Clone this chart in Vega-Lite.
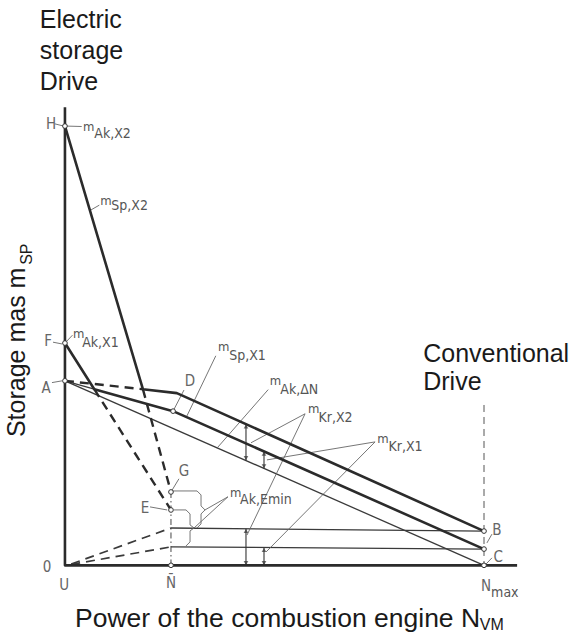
{
  "$schema": "https://vega.github.io/schema/vega-lite/v6.json",
  "width": 572,
  "height": 640,
  "padding": 0,
  "autosize": {"type": "fit", "contains": "padding"},
  "background": "white",
  "config": {"view": {"stroke": null}},
  "datasets": {
    "lines": [
      {"g":"L1","k":"main","i":0,"x":0,"y":100},{"g":"L1","k":"main","i":1,"x":18.6,"y":40.1},{"g":"L1","k":"main","i":2,"x":26.7,"y":39.2},{"g":"L1","k":"main","i":3,"x":100,"y":7.8},
      {"g":"L2","k":"main","i":0,"x":0,"y":50.6},{"g":"L2","k":"main","i":1,"x":7.0,"y":40.1},{"g":"L2","k":"main","i":2,"x":25.8,"y":35.1},{"g":"L2","k":"main","i":3,"x":100,"y":3.7},
      {"g":"AX","k":"main","i":0,"x":0,"y":104.3},{"g":"AX","k":"main","i":1,"x":0,"y":0},{"g":"AX","k":"main","i":2,"x":107.9,"y":0},
      {"g":"T1","k":"thin","i":0,"x":0,"y":42},{"g":"T1","k":"thin","i":1,"x":100,"y":0},
      {"g":"T2","k":"thin","i":0,"x":0,"y":42},{"g":"T2","k":"thin","i":1,"x":7.0,"y":40.1},
      {"g":"T3","k":"thin","i":0,"x":25.3,"y":8.5},{"g":"T3","k":"thin","i":1,"x":100,"y":7.8},
      {"g":"T4","k":"thin","i":0,"x":25.3,"y":4.2},{"g":"T4","k":"thin","i":1,"x":100,"y":3.7},
      {"g":"P1","k":"proj","i":0,"x":0,"y":42},{"g":"P1","k":"proj","i":1,"x":18.6,"y":40.1},
      {"g":"P2","k":"proj","i":0,"x":7.0,"y":40.1},{"g":"P2","k":"proj","i":1,"x":25.3,"y":12.6},
      {"g":"P3","k":"proj","i":0,"x":18.6,"y":40.1},{"g":"P3","k":"proj","i":1,"x":25.3,"y":16.7},
      {"g":"B1","k":"base","i":0,"x":1.5,"y":0.3},{"g":"B1","k":"base","i":1,"x":25.3,"y":8.5},
      {"g":"B2","k":"base","i":0,"x":1.5,"y":0.2},{"g":"B2","k":"base","i":1,"x":25.3,"y":4.2},
      {"g":"N1","k":"nbar","i":0,"x":25.3,"y":16.7},{"g":"N1","k":"nbar","i":1,"x":25.3,"y":0},
      {"g":"M1","k":"nmax","i":0,"x":100,"y":36.5},{"g":"M1","k":"nmax","i":1,"x":100,"y":0},
      {"g":"A1","k":"arrow","i":0,"x":43.2,"y":23.9},{"g":"A1","k":"arrow","i":1,"x":43.2,"y":32.1},
      {"g":"A2","k":"arrow","i":0,"x":47.5,"y":22.05},{"g":"A2","k":"arrow","i":1,"x":47.5,"y":25.9},
      {"g":"A3","k":"arrow","i":0,"x":43.2,"y":0},{"g":"A3","k":"arrow","i":1,"x":43.2,"y":8.3},
      {"g":"A4","k":"arrow","i":0,"x":47.5,"y":0},{"g":"A4","k":"arrow","i":1,"x":47.5,"y":4.0},
      {"g":"l1","k":"leader","i":0,"x":-2.4,"y":100.5},{"g":"l1","k":"leader","i":1,"x":-0.3,"y":100},
      {"g":"l2","k":"leader","i":0,"x":0.3,"y":100},{"g":"l2","k":"leader","i":1,"x":4.0,"y":99.9},
      {"g":"l3","k":"leader","i":0,"x":6.2,"y":80.9},{"g":"l3","k":"leader","i":1,"x":8.2,"y":82.0},
      {"g":"l4","k":"leader","i":0,"x":-2.85,"y":50.8},{"g":"l4","k":"leader","i":1,"x":-0.7,"y":50.4},
      {"g":"l5","k":"leader","i":0,"x":0.3,"y":50.9},{"g":"l5","k":"leader","i":1,"x":1.8,"y":52.4},
      {"g":"l6","k":"leader","i":0,"x":-3.1,"y":41.6},{"g":"l6","k":"leader","i":1,"x":-0.7,"y":42},
      {"g":"l7","k":"leader","i":0,"x":25.8,"y":35.1},{"g":"l7","k":"leader","i":1,"x":28.4,"y":39.9},
      {"g":"l8","k":"leader","i":0,"x":36.0,"y":47.7},{"g":"l8","k":"leader","i":1,"x":29.1,"y":34.0},
      {"g":"l9","k":"leader","i":0,"x":48.5,"y":40.0},{"g":"l9","k":"leader","i":1,"x":36.3,"y":26.7},
      {"g":"l10","k":"leader","i":0,"x":57.3,"y":34.5},{"g":"l10","k":"leader","i":1,"x":44.4,"y":27.9},
      {"g":"l11","k":"leader","i":0,"x":57.3,"y":34.5},{"g":"l11","k":"leader","i":1,"x":43.45,"y":6.9},
      {"g":"l12","k":"leader","i":0,"x":74.0,"y":28.1},{"g":"l12","k":"leader","i":1,"x":48.2,"y":24.0},
      {"g":"l13","k":"leader","i":0,"x":74.0,"y":28.1},{"g":"l13","k":"leader","i":1,"x":48.0,"y":3.05},
      {"g":"l14","k":"leader","i":0,"x":38.9,"y":15.6},{"g":"l14","k":"leader","i":1,"x":33.4,"y":12.6},
      {"g":"l15","k":"leader","i":0,"x":38.9,"y":15.6},{"g":"l15","k":"leader","i":1,"x":30.8,"y":8.5},
      {"g":"l16","k":"leader","i":0,"x":25.3,"y":16.7},{"g":"l16","k":"leader","i":1,"x":27.2,"y":19.7},
      {"g":"l17","k":"leader","i":0,"x":20.3,"y":13.3},{"g":"l17","k":"leader","i":1,"x":24.4,"y":12.6},
      {"g":"l18","k":"leader","i":0,"x":100.7,"y":5.1},{"g":"l18","k":"leader","i":1,"x":101.9,"y":7.1},
      {"g":"l19","k":"leader","i":0,"x":100.3,"y":0.1},{"g":"l19","k":"leader","i":1,"x":101.9,"y":1.7},
      {"g":"br1","k":"leader","i":0,"x":25.55,"y":16.93},{"g":"br1","k":"leader","i":1,"x":31.52,"y":16.93},{"g":"br1","k":"leader","i":2,"x":32.47,"y":16.02},{"g":"br1","k":"leader","i":3,"x":32.47,"y":13.52},{"g":"br1","k":"leader","i":4,"x":33.43,"y":12.61},{"g":"br1","k":"leader","i":5,"x":32.47,"y":11.7},{"g":"br1","k":"leader","i":6,"x":32.47,"y":9.42},{"g":"br1","k":"leader","i":7,"x":31.52,"y":8.51},
      {"g":"br2","k":"leader","i":0,"x":26.03,"y":12.61},{"g":"br2","k":"leader","i":1,"x":28.89,"y":12.61},{"g":"br2","k":"leader","i":2,"x":29.85,"y":11.7},{"g":"br2","k":"leader","i":3,"x":29.85,"y":9.2},{"g":"br2","k":"leader","i":4,"x":30.8,"y":8.51},{"g":"br2","k":"leader","i":5,"x":29.85,"y":7.83},{"g":"br2","k":"leader","i":6,"x":29.85,"y":5.33},{"g":"br2","k":"leader","i":7,"x":28.89,"y":4.41}
    ],
    "heads": [
      {"x":43.2,"y":31.6,"dir":"up"},{"x":43.2,"y":24.4,"dir":"down"},
      {"x":47.5,"y":25.4,"dir":"up"},{"x":47.5,"y":22.55,"dir":"down"},
      {"x":43.2,"y":7.8,"dir":"up"},{"x":43.2,"y":0.5,"dir":"down"},
      {"x":47.5,"y":3.5,"dir":"up"},{"x":47.5,"y":0.5,"dir":"down"}
    ],
    "circles": [
      {"p":"H","x":0,"y":100},{"p":"F","x":0,"y":50.6},{"p":"A","x":0,"y":42},{"p":"D","x":25.8,"y":35.1},
      {"p":"G","x":25.3,"y":16.7},{"p":"E","x":25.3,"y":12.6},{"p":"N","x":25.3,"y":0},
      {"p":"B","x":100,"y":7.8},{"p":"C","x":100,"y":3.7},{"p":"Nmax","x":100,"y":0}
    ],
    "texts": [
      {"t":"Electric","k":"title","x":-6.0,"y":122.3},
      {"t":"storage","k":"title","x":-6.0,"y":115.3},
      {"t":"Drive","k":"title","x":-6.0,"y":108.2},
      {"t":"Conventional","k":"title","x":85.5,"y":46.3},
      {"t":"Drive","k":"title","x":85.5,"y":39.9},
      {"t":"Power of the combustion engine N","k":"xtitle","x":2.4,"y":-14.0},
      {"t":"VM","k":"titlesub","x":99.0,"y":-14.8},
      {"t":"Storage mas m","k":"ytitle","x":-9.5,"y":29.2},
      {"t":"SP","k":"ytitlesub","x":-7.9,"y":68.4},
      {"t":"H","k":"letter","x":-3.33,"y":100.5},
      {"t":"F","k":"letter","x":-4.04,"y":51.1},
      {"t":"A","k":"letter","x":-4.52,"y":40.4},
      {"t":"D","k":"letter","x":29.8,"y":41.9},
      {"t":"G","k":"letter","x":28.4,"y":21.5},
      {"t":"E","k":"letter","x":19.1,"y":13.1},
      {"t":"B","k":"letter","x":103.1,"y":8.05},
      {"t":"C","k":"letter","x":103.4,"y":1.9},
      {"t":"0","k":"letter","x":-4.3,"y":-0.4},
      {"t":"U","k":"letter","x":-0.2,"y":-4.5},
      {"t":"N̄","k":"letter","x":25.3,"y":-4.0},
      {"t":"N","k":"letter","x":100.5,"y":-4.7},
      {"t":"max","k":"sub","x":101.7,"y":-6.3},
      {"t":"m","k":"m","x":4.31,"y":99.8},{"t":"Ak,X2","k":"sub","x":7.0,"y":98.2},
      {"t":"m","k":"m","x":8.4,"y":82.9},{"t":"Sp,X2","k":"sub","x":11.05,"y":81.8},
      {"t":"m","k":"m","x":1.9,"y":52.6},{"t":"Ak,X1","k":"sub","x":4.1,"y":50.6},
      {"t":"m","k":"m","x":36.5,"y":49.7},{"t":"Sp,X1","k":"sub","x":39.2,"y":47.7},
      {"t":"m","k":"m","x":48.9,"y":41.9},{"t":"Ak,ΔN","k":"sub","x":51.4,"y":39.9},
      {"t":"m","k":"m","x":58.0,"y":35.6},{"t":"Kr,X2","k":"sub","x":60.5,"y":33.5},
      {"t":"m","k":"m","x":74.5,"y":28.7},{"t":"Kr,X1","k":"sub","x":77.2,"y":26.9},
      {"t":"m","k":"m","x":39.4,"y":16.5},{"t":"Ak,Emin","k":"sub","x":41.8,"y":14.9}
    ]
  },
  "encoding": {
    "x": {"field": "x", "type": "quantitative", "scale": {"domain": [-15.5, 121], "nice": false, "zero": false}, "axis": null},
    "y": {"field": "y", "type": "quantitative", "scale": {"domain": [-17, 128.7], "nice": false, "zero": false}, "axis": null}
  },
  "layer": [
    {"data": {"name": "lines"}, "transform": [{"filter": "datum.k == 'thin'"}],
     "mark": {"type": "line", "color": "#3a3a3a", "strokeWidth": 1.3},
     "encoding": {"detail": {"field": "g"}, "order": {"field": "i", "type": "quantitative"}}},
    {"data": {"name": "lines"}, "transform": [{"filter": "datum.k == 'leader'"}],
     "mark": {"type": "line", "color": "#666666", "strokeWidth": 0.9},
     "encoding": {"detail": {"field": "g"}, "order": {"field": "i", "type": "quantitative"}}},
    {"data": {"name": "lines"}, "transform": [{"filter": "datum.k == 'arrow'"}],
     "mark": {"type": "line", "color": "#333333", "strokeWidth": 1.1},
     "encoding": {"detail": {"field": "g"}, "order": {"field": "i", "type": "quantitative"}}},
    {"data": {"name": "lines"}, "transform": [{"filter": "datum.k == 'base'"}],
     "mark": {"type": "line", "color": "#3a3a3a", "strokeWidth": 1.7, "strokeDash": [9, 6]},
     "encoding": {"detail": {"field": "g"}, "order": {"field": "i", "type": "quantitative"}}},
    {"data": {"name": "lines"}, "transform": [{"filter": "datum.k == 'proj'"}],
     "mark": {"type": "line", "color": "#2b2b2b", "strokeWidth": 2.4, "strokeDash": [9, 6]},
     "encoding": {"detail": {"field": "g"}, "order": {"field": "i", "type": "quantitative"}}},
    {"data": {"name": "lines"}, "transform": [{"filter": "datum.k == 'nbar'"}],
     "mark": {"type": "line", "color": "#444444", "strokeWidth": 1, "strokeDash": [6, 3, 1.5, 3]},
     "encoding": {"detail": {"field": "g"}, "order": {"field": "i", "type": "quantitative"}}},
    {"data": {"name": "lines"}, "transform": [{"filter": "datum.k == 'nmax'"}],
     "mark": {"type": "line", "color": "#555555", "strokeWidth": 1, "strokeDash": [7, 5]},
     "encoding": {"detail": {"field": "g"}, "order": {"field": "i", "type": "quantitative"}}},
    {"data": {"name": "lines"}, "transform": [{"filter": "datum.k == 'main'"}],
     "mark": {"type": "line", "color": "#2b2b2b", "strokeWidth": 2.6, "strokeJoin": "round"},
     "encoding": {"detail": {"field": "g"}, "order": {"field": "i", "type": "quantitative"}}},
    {"data": {"name": "heads"},
     "mark": {"type": "point", "filled": true, "color": "#333333", "size": 22},
     "encoding": {"shape": {"field": "dir", "type": "nominal", "scale": {"domain": ["up", "down"], "range": ["triangle-up", "triangle-down"]}, "legend": null}}},
    {"data": {"name": "circles"},
     "mark": {"type": "point", "shape": "circle", "filled": true, "fill": "white", "stroke": "#333333", "strokeWidth": 1, "size": 22, "opacity": 1}},
    {"data": {"name": "texts"}, "transform": [{"filter": "datum.k == 'title'"}],
     "mark": {"type": "text", "font": "Liberation Sans", "fontSize": 25, "color": "#1a1a1a", "align": "left", "baseline": "alphabetic"},
     "encoding": {"text": {"field": "t"}}},
    {"data": {"name": "texts"}, "transform": [{"filter": "datum.k == 'xtitle'"}],
     "mark": {"type": "text", "font": "Liberation Sans", "fontSize": 26.5, "color": "#1a1a1a", "align": "left", "baseline": "alphabetic"},
     "encoding": {"text": {"field": "t"}}},
    {"data": {"name": "texts"}, "transform": [{"filter": "datum.k == 'titlesub'"}],
     "mark": {"type": "text", "font": "Liberation Sans", "fontSize": 16, "color": "#1a1a1a", "align": "left", "baseline": "alphabetic"},
     "encoding": {"text": {"field": "t"}}},
    {"data": {"name": "texts"}, "transform": [{"filter": "datum.k == 'ytitle'"}],
     "mark": {"type": "text", "font": "Liberation Sans", "fontSize": 25, "color": "#1a1a1a", "align": "left", "baseline": "alphabetic", "angle": 270},
     "encoding": {"text": {"field": "t"}}},
    {"data": {"name": "texts"}, "transform": [{"filter": "datum.k == 'ytitlesub'"}],
     "mark": {"type": "text", "font": "Liberation Sans", "fontSize": 16, "color": "#1a1a1a", "align": "left", "baseline": "alphabetic", "angle": 270},
     "encoding": {"text": {"field": "t"}}},
    {"data": {"name": "texts"}, "transform": [{"filter": "datum.k == 'letter'"}],
     "mark": {"type": "text", "font": "DejaVu Sans Condensed, DejaVu Sans", "fontSize": 15, "color": "#666666", "align": "center", "baseline": "middle"},
     "encoding": {"text": {"field": "t"}}},
    {"data": {"name": "texts"}, "transform": [{"filter": "datum.k == 'm'"}],
     "mark": {"type": "text", "font": "DejaVu Sans Condensed, DejaVu Sans", "fontSize": 13, "color": "#555555", "align": "left", "baseline": "middle"},
     "encoding": {"text": {"field": "t"}}},
    {"data": {"name": "texts"}, "transform": [{"filter": "datum.k == 'sub'"}],
     "mark": {"type": "text", "font": "DejaVu Sans Condensed, DejaVu Sans", "fontSize": 14, "color": "#555555", "align": "left", "baseline": "middle"},
     "encoding": {"text": {"field": "t"}}}
  ]
}
